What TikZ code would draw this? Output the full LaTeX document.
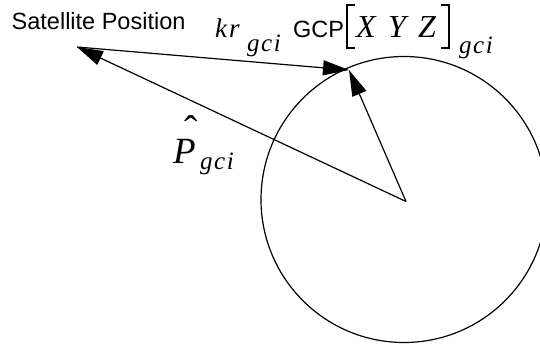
\documentclass[tikz,border=0pt]{standalone}
\usepackage{fontspec}
\setmainfont{Liberation Serif}
\setsansfont{Liberation Sans}
\usetikzlibrary{arrows.meta}
\begin{document}
\begin{tikzpicture}[x=1pt,y=-1pt,
  vec/.style={line width=1.2pt, -{Triangle[length=26pt,width=15pt]}},
  lbl/.style={inner sep=0pt, anchor=base west},
  sans/.style={lbl, font=\sffamily\fontsize{23.5}{28}\selectfont},
  mth/.style={lbl, font=\itshape\fontsize{27}{32}\selectfont},
  sub/.style={lbl, font=\itshape\fontsize{25}{30}\selectfont},
  big/.style={lbl, font=\itshape\fontsize{32}{38}\selectfont},
  brk/.style={line width=1.1pt},
]
\useasboundingbox (0,0) rectangle (540,343);
\begin{scope}
\clip (0,0) rectangle (540,343);
\draw[line width=1.2pt] (404,199.5) circle[radius=143pt];
\end{scope}
\coordinate (O) at (406,201.5);
\coordinate (S) at (77,47);
\coordinate (G) at (349,70);
\draw[vec] (O) -- (S);
\draw[vec] (S) -- (G);
\draw[vec] (O) -- (G);
\node[sans] (sat) at (11.5,29) {Satellite Position};
\node[mth] (kr) at (215,37) {k\kern2pt r};
\node[sub] (krs) at (247,51) {g\kern1.5pt c\kern1.5pt i};
\node[sans] (gcp) at (293,37) {GCP};
\draw[brk] (355,5) -| (347,48) -- (355,48);
\node[big] (X) at (356,37) {X};
\node[big] (Y) at (388,37) {Y};
\node[big] (Z) at (418,37) {Z};
\draw[brk] (441,5) -| (449,48) -- (441,48);
\node[sub] (gs) at (459,53) {g\kern1.5pt c\kern1.5pt i};
\node[big, font=\itshape\fontsize{37}{44}\selectfont] (P) at (173,163)
  {\makebox[0pt][l]{\kern11.3pt\raisebox{20pt}[0pt][0pt]{\upshape\fontsize{40}{46}\selectfont ˆ}}P};
\node[sub] (ps) at (200,169) {g\kern1.5pt c\kern1.5pt i};
\end{tikzpicture}
\end{document}
